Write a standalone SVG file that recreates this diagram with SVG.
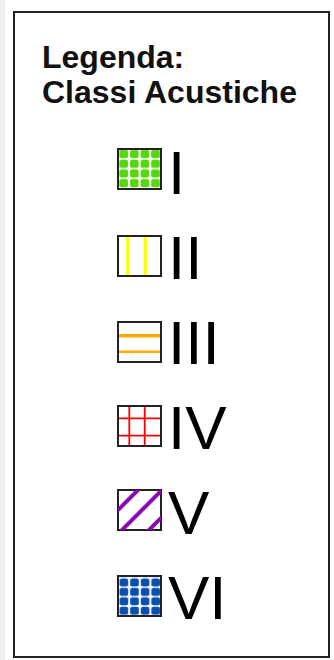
<svg xmlns="http://www.w3.org/2000/svg" width="334" height="660" viewBox="0 0 334 660">
<style>
.title{font-family:"Liberation Sans",Arial,sans-serif;font-weight:bold;font-size:32px;fill:#111}
.num{font-family:"Liberation Sans",Arial,sans-serif;font-size:62px;fill:#000}
.sw{fill:#fff;stroke:#222;stroke-width:2}
</style>
<defs>
<pattern id="dotG" patternUnits="userSpaceOnUse" x="118.4" y="149.2" width="10.6" height="9.7">
<rect x="1" y="0.7" width="8.6" height="8.3" rx="2" fill="#55d80f"/>
</pattern>
<pattern id="dotB" patternUnits="userSpaceOnUse" x="118.6" y="577.8" width="10.6" height="9.4">
<rect x="1" y="0.6" width="8.6" height="8.2" rx="2" fill="#0b4fae"/>
</pattern>
<clipPath id="clipV"><rect x="118" y="490" width="43" height="40"/></clipPath>
</defs>
<rect x="0" y="0" width="334" height="660" fill="#fff"/>
<rect x="0" y="0" width="5" height="660" fill="#f0f0f0"/>
<rect x="14" y="12" width="315" height="645" fill="#fff" stroke="#222" stroke-width="2"/>
<g id="title">
<text class="title" x="42" y="68">Legenda:</text>
<text class="title" x="42" y="103">Classi Acustiche</text>
</g>
<g id="class-I">
<rect class="sw" x="118" y="149" width="43" height="40"/>
<rect x="119" y="150" width="41" height="38" fill="url(#dotG)"/>
<text class="num" x="168" y="194">I</text>
</g>
<g id="class-II">
<rect class="sw" x="118" y="236" width="43" height="40"/>
<line x1="127.7" y1="237" x2="127.7" y2="275" stroke="#ffff00" stroke-width="3"/>
<line x1="145.3" y1="237" x2="145.3" y2="275" stroke="#ffff00" stroke-width="3"/>
<text class="num" x="168" y="279">II</text>
</g>
<g id="class-III">
<rect class="sw" x="118" y="322" width="43" height="40"/>
<line x1="119" y1="335.7" x2="160" y2="335.7" stroke="#ffaa00" stroke-width="3.5"/>
<line x1="119" y1="351.7" x2="160" y2="351.7" stroke="#ffaa00" stroke-width="2.5"/>
<text class="num" x="168" y="364">III</text>
</g>
<g id="class-IV">
<rect class="sw" x="118" y="406" width="43" height="40"/>
<line x1="129.3" y1="407" x2="129.3" y2="445" stroke="#ff0000" stroke-width="1.8"/>
<line x1="144.7" y1="407" x2="144.7" y2="445" stroke="#ff0000" stroke-width="1.8"/>
<line x1="119" y1="418.3" x2="160" y2="418.3" stroke="#ff0000" stroke-width="1.8"/>
<line x1="119" y1="435.7" x2="160" y2="435.7" stroke="#ff0000" stroke-width="1.8"/>
<text class="num" x="168" y="449">IV</text>
</g>
<g id="class-V">
<rect class="sw" x="118" y="490" width="43" height="40"/>
<g clip-path="url(#clipV)" stroke="#8c0ab4" stroke-width="4">
<line x1="107" y1="521" x2="147" y2="481"/>
<line x1="116" y1="536" x2="166" y2="486"/>
<line x1="142" y1="537" x2="172" y2="507"/>
</g>
<text class="num" x="168" y="534">V</text>
</g>
<g id="class-VI">
<rect class="sw" x="118" y="576" width="43" height="40"/>
<rect x="119" y="577" width="41" height="38" fill="url(#dotB)"/>
<text class="num" x="168" y="619">VI</text>
</g>
</svg>
